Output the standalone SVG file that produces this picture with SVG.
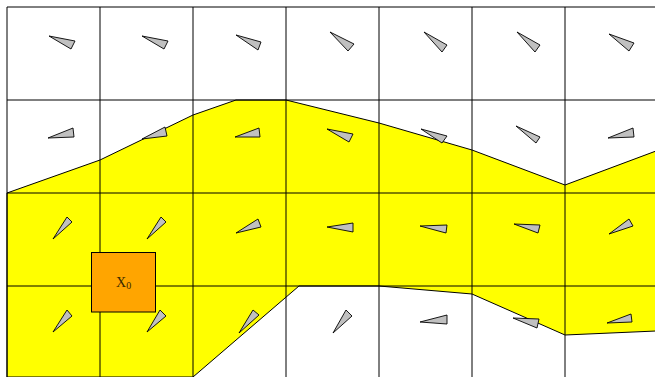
<svg xmlns="http://www.w3.org/2000/svg" width="655" height="377" viewBox="0 0 655 377">
<style>
.grid{stroke:#000;stroke-width:1;fill:none}
.arr{fill:#c0c0c0;stroke:#000;stroke-width:0.9;stroke-linejoin:miter}
.region{fill:#ffff00;stroke:#000;stroke-width:1}
.lbl{font-family:"Liberation Serif","DejaVu Serif",serif;fill:#3a2a00}
</style>
<rect width="655" height="377" fill="#fff"/>
<g id="region">
<polygon class="region" points="7,193 100,160 193,115 236,100 286,100 379,123 472,150 565,185 656,151 656,331 565,335 472,294 379,286 299,286 193,377 7,377"/>
</g>
<g id="grid">
<line class="grid" x1="7" y1="7" x2="655" y2="7"/>
<line class="grid" x1="7" y1="100" x2="655" y2="100"/>
<line class="grid" x1="7" y1="193" x2="655" y2="193" stroke-width="1.3"/>
<line class="grid" x1="7" y1="286" x2="655" y2="286" stroke-width="1.3"/>
<line class="grid" x1="7" y1="7" x2="7" y2="377"/>
<line class="grid" x1="100" y1="7" x2="100" y2="377"/>
<line class="grid" x1="193" y1="7" x2="193" y2="377"/>
<line class="grid" x1="286" y1="7" x2="286" y2="377"/>
<line class="grid" x1="379" y1="7" x2="379" y2="377"/>
<line class="grid" x1="472" y1="7" x2="472" y2="377"/>
<line class="grid" x1="565" y1="7" x2="565" y2="377"/>
</g>
<g id="arrows">
<g id="a11"><polygon class="arr" points="49,36 75,41 71,49"/></g>
<g id="a12"><polygon class="arr" points="142,36 168,41 164,49"/></g>
<g id="a13"><polygon class="arr" points="236,35 261,42 258,50"/></g>
<g id="a14"><polygon class="arr" points="330,32 354,44 348,51"/></g>
<g id="a15"><polygon class="arr" points="424,32 447,45 442,52"/></g>
<g id="a16"><polygon class="arr" points="517,32 540,45 535,52"/></g>
<g id="a17"><polygon class="arr" points="609,34 634,43 629,51"/></g>
<g id="a21"><polygon class="arr" points="48,138 74,137 73,128"/></g>
<g id="a22"><polygon class="arr" points="142,139 167,136 165,127"/></g>
<g id="a23"><polygon class="arr" points="235,137 260,137 259,128"/></g>
<g id="a24"><polygon class="arr" points="327,129 353,134 349,142"/></g>
<g id="a25"><polygon class="arr" points="421,129 447,136 442,143"/></g>
<g id="a26"><polygon class="arr" points="516,126 540,137 536,143"/></g>
<g id="a27"><polygon class="arr" points="608,138 634,137 633,128"/></g>
<g id="a31"><polygon class="arr" points="53,239 72,222 67,217"/></g>
<g id="a32"><polygon class="arr" points="147,239 166,222 161,217"/></g>
<g id="a33"><polygon class="arr" points="236,233 261,227 258,219"/></g>
<g id="a34"><polygon class="arr" points="327,227 353,223 353,232"/></g>
<g id="a35"><polygon class="arr" points="420,226 447,225 446,233"/></g>
<g id="a36"><polygon class="arr" points="514,224 540,225 538,233"/></g>
<g id="a37"><polygon class="arr" points="609,234 633,226 629,219"/></g>
<g id="a41"><polygon class="arr" points="53,332 72,316 67,310"/></g>
<g id="a42"><polygon class="arr" points="147,332 166,316 160,310"/></g>
<g id="a43"><polygon class="arr" points="239,333 259,315 253,310"/></g>
<g id="a44"><polygon class="arr" points="333,333 352,316 346,310"/></g>
<g id="a45"><polygon class="arr" points="420,322 447,315 447,324"/></g>
<g id="a46"><polygon class="arr" points="513,318 539,319 537,328"/></g>
<g id="a47"><polygon class="arr" points="607,323 632,322 631,314"/></g>
</g>
<g id="x0">
<rect x="91.5" y="252.5" width="64" height="59.5" fill="#ffa500" stroke="#000" stroke-width="1"/>
<text class="lbl" x="116" y="287" font-size="14">X<tspan font-size="10" dy="2">0</tspan></text>
</g>
</svg>
